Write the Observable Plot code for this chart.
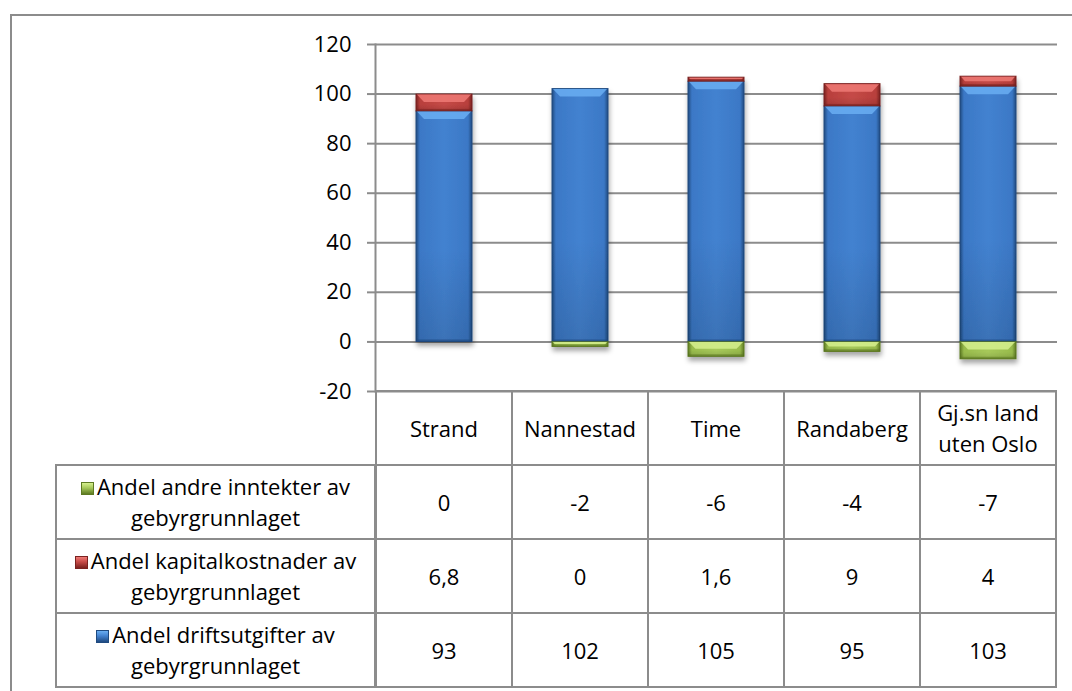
<!DOCTYPE html>
<html><head><meta charset="utf-8">
<script src="https://cdn.jsdelivr.net/npm/d3@7"></script>
<script src="https://cdn.jsdelivr.net/npm/@observablehq/plot@0.6"></script>
<style>
body{margin:0;background:#fff;font-family:"Open Sans",sans-serif;}
#wrap{position:relative;width:1072px;height:691px;overflow:hidden;background:#fff;}
#border{position:absolute;left:10px;top:14px;width:1200px;height:800px;border-left:2px solid #8c8c8c;border-top:2px solid #8c8c8c;}
#chart{position:absolute;left:0;top:0;}
.cell{position:absolute;box-sizing:border-box;border:2px solid #8c8c8c;display:flex;flex-direction:column;align-items:center;justify-content:center;font-size:22px;line-height:31px;color:#000;text-align:center;}
.key{display:inline-block;width:13px;height:13px;margin-right:3px;vertical-align:0px;box-sizing:border-box;}
</style></head><body>
<div id="wrap"><div id="border"></div><div id="chart"></div></div>
<script>
const categories = ["Strand", "Nannestad", "Time", "Randaberg", "Gj.sn land uten Oslo"];
const categoryLines = [["Strand"], ["Nannestad"], ["Time"], ["Randaberg"], ["Gj.sn land", "uten Oslo"]];
const seriesKeys = ["drift", "kapital", "andre"];
const seriesLines = {
  andre: ["Andel andre inntekter av", "gebyrgrunnlaget"],
  kapital: ["Andel kapitalkostnader av", "gebyrgrunnlaget"],
  drift: ["Andel driftsutgifter av", "gebyrgrunnlaget"]
};
const driftsutgifter = [93, 102, 105, 95, 103];
const kapitalkostnader = [6.8, 0, 1.6, 9, 4];
const andreInntekter = [0, -2, -6, -4, -7];
const yTicks = [-20, 0, 20, 40, 60, 80, 100, 120];
const tableOrder = ["andre", "kapital", "drift"];

const seriesValues = {drift: driftsutgifter, kapital: kapitalkostnader, andre: andreInntekter};
const data = [];
for (const s of seriesKeys) categories.forEach((c, i) => data.push({category: c, series: s, value: seriesValues[s][i]}));

const palette = {
  drift:   {dark: "#1f4a80", mid: "#3b78c6", main: "#4382d0", bottom: "#3669ab", light: "#6aaef2"},
  kapital: {dark: "#7a2220", mid: "#b83f3c", main: "#c54a47", bottom: "#a83a37", light: "#ef7a76"},
  andre:   {dark: "#5d7a22", mid: "#98bb4c", main: "#a6c85a", bottom: "#8aa845", light: "#d6f08e"}
};

const chart = Plot.plot({
  width: 1072, height: 691,
  marginLeft: 375, marginRight: 15, marginTop: 44, marginBottom: 300,
  style: {fontFamily: "'Open Sans', sans-serif", fontSize: "22px", color: "#000", background: "transparent"},
  x: {domain: categories, paddingInner: 0.59, paddingOuter: 0.295, axis: null},
  y: {domain: [-20, 120], axis: null, label: null},
  color: {domain: seriesKeys, range: seriesKeys.map(s => `url(#grad-${s})`)},
  marks: [
    Plot.gridY(yTicks, {stroke: "#8c8c8c", strokeOpacity: 1, strokeWidth: 2}),
    Plot.axisY(yTicks, {label: null, tickSize: 8, tickPadding: 16, stroke: "#8c8c8c", strokeWidth: 2, fill: "#000", tickFormat: d => d < 0 ? "-" + Math.abs(d) : String(d)}),
    Plot.frame({anchor: "left", stroke: "#8c8c8c", strokeWidth: 2}),
    Plot.barY(data, Plot.stackY({x: "category", y: "value", fill: "series", className: "bars", order: seriesKeys}))
  ]
});
document.getElementById("chart").appendChild(chart);

// gradients & shadow
const svg = d3.select(chart);
const defs = svg.insert("defs", ":first-child");
for (const s of seriesKeys) {
  const p = palette[s];
  const g = defs.append("linearGradient").attr("id", `grad-${s}`).attr("x1", 0).attr("x2", 1).attr("y1", 0).attr("y2", 0);
  [[0, p.dark], [0.07, p.mid], [0.5, p.main], [0.93, p.mid], [1, p.dark]].forEach(([o, c]) =>
    g.append("stop").attr("offset", o).attr("stop-color", c));
  const v = defs.append("linearGradient").attr("id", `vgrad-${s}`).attr("x1", 0).attr("x2", 0).attr("y1", 0).attr("y2", 1);
  [[0, "#000", 0], [0.6, "#000", 0.0], [1, "#000", 0.12]].forEach(([o, c, a]) =>
    v.append("stop").attr("offset", o).attr("stop-color", c).attr("stop-opacity", a));
}
const f = defs.append("filter").attr("id", "shadow").attr("x", "-20%").attr("y", "-20%").attr("width", "140%").attr("height", "140%");
f.append("feDropShadow").attr("dx", 1).attr("dy", 4).attr("stdDeviation", 2.5).attr("flood-color", "#000").attr("flood-opacity", 0.35);

const barsG = svg.select("g.bars");
barsG.attr("filter", "url(#shadow)");
barsG.selectAll("rect").each(function() {
  const r = d3.select(this);
  const fill = r.attr("fill") || "";
  const s = seriesKeys.find(k => fill.includes(k));
  if (!s) return;
  const p = palette[s];
  const x = +r.attr("x"), y = +r.attr("y"), w = +r.attr("width"), h = +r.attr("height");
  if (!(h > 0.5)) { r.remove(); return; }
  r.attr("stroke", p.dark).attr("stroke-width", 1);
  const parent = d3.select(this.parentNode);
  parent.append("rect").attr("x", x).attr("y", y).attr("width", w).attr("height", h).attr("fill", `url(#vgrad-${s})`);
  const b = Math.min(8, h / 2);
  parent.append("polygon")
    .attr("points", `${x+1},${y+0.5} ${x+w-1},${y+0.5} ${x+w-b},${y+b} ${x+b},${y+b}`)
    .attr("fill", p.light).attr("opacity", 0.85);
  parent.append("rect")
    .attr("x", x + 0.5).attr("y", y + h - 2).attr("width", w - 1).attr("height", 2)
    .attr("fill", p.dark).attr("opacity", 0.6);
});

// data table
const xs = chart.scale("x");
const gap = (xs.step - xs.bandwidth) / 2;
const colLeft = c => xs.apply(c) - gap;
const rowTops = [391, 465, 539, 613, 687];
const labelLeft = 56;
const frameLeft = 375;
const wrap = document.getElementById("wrap");
function cell(x0, y0, x1, y1, html) {
  const d = document.createElement("div");
  d.className = "cell";
  d.style.left = (x0 - 1) + "px"; d.style.top = (y0 - 1) + "px";
  d.style.width = (x1 - x0 + 2) + "px"; d.style.height = (y1 - y0 + 2) + "px";
  d.innerHTML = html;
  wrap.appendChild(d);
}
categories.forEach((c, i) => {
  cell(colLeft(c), rowTops[0], colLeft(c) + xs.step, rowTops[1], categoryLines[i].map(l => `<div>${l}</div>`).join(""));
});
tableOrder.forEach((s, r) => {
  const p = palette[s];
  const key = `<span class="key" style="background:linear-gradient(180deg, ${p.light} 0%, ${p.main} 45%, ${p.dark} 100%);border:1px solid ${p.dark}"></span>`;
  cell(labelLeft, rowTops[r + 1], frameLeft, rowTops[r + 2],
    `<div style="white-space:nowrap">${key}${seriesLines[s][0]}</div><div>${seriesLines[s][1]}</div>`);
  categories.forEach((c, i) => {
    const v = seriesValues[s][i];
    cell(colLeft(c), rowTops[r + 1], colLeft(c) + xs.step, rowTops[r + 2], `<div>${String(v).replace(".", ",")}</div>`);
  });
});
</script>
</body></html>
